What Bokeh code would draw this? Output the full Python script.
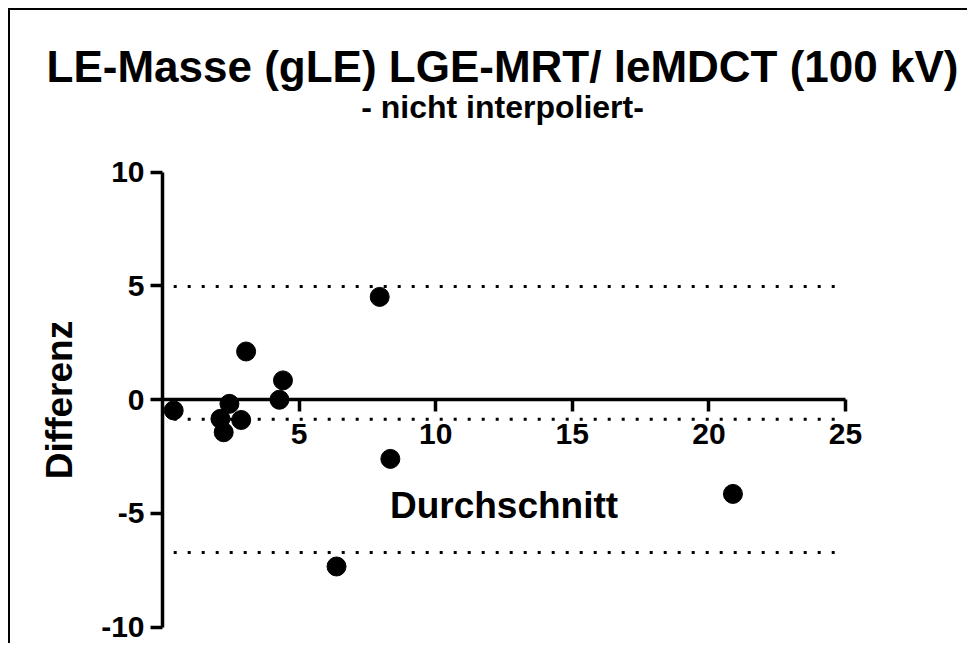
from bokeh.plotting import figure
from bokeh.models import LinearAxis, FixedTicker, Label, ColumnDataSource, Range1d
from bokeh.embed import file_html
from bokeh.resources import INLINE

# ---- data ----
mean_vals = [0.41, 2.45, 2.12, 2.24, 2.88, 3.06, 4.28, 4.41, 7.95, 8.34, 6.37, 20.88]
diff_vals = [-0.48, -0.19, -0.85, -1.44, -0.90, 2.11, -0.01, 0.84, 4.51, -2.61, -7.34, -4.15]
bias = -0.87
upper_loa = 4.97
lower_loa = -6.72
x_ticks = [5, 10, 15, 20, 25]
y_ticks = [-10, -5, 0, 5, 10]
y_tick_labels = ["-10", "-5", "0", "5", "10"]
title_text = "LE-Masse (gLE) LGE-MRT/ leMDCT (100 kV)"
subtitle_text = "- nicht interpoliert-"
x_label = "Durchschnitt"
y_label = "Differenz"

FONT = "Liberation Sans"

# pixel geometry -> ranges (canvas starts at page (10,10): 8px margin + 2px border)
W, H = 959, 635
px_per_x = 27.32
px_per_y = 22.75
x0_px, y0_px = 162 - 10, 399 - 10   # position of data origin inside canvas
x_start = -x0_px / px_per_x
x_end = (W - x0_px) / px_per_x
y_end = y0_px / px_per_y
y_start = -(H - y0_px) / px_per_y

p = figure(width=W, height=H, output_backend="svg", toolbar_location=None,
           x_axis_type=None, y_axis_type=None,
           x_range=Range1d(x_start, x_end), y_range=Range1d(y_start, y_end),
           min_border=0, min_border_left=0, min_border_right=0,
           min_border_top=0, min_border_bottom=0)
p.outline_line_color = None
p.background_fill_color = "white"
p.border_fill_color = "white"
p.styles = {"margin-left": "8px", "margin-top": "8px",
            "border-left": "2px solid black", "border-top": "2px solid black"}

# reference lines (bias and limits of agreement)
levels = [upper_loa, bias, lower_loa]
seg_src = ColumnDataSource(dict(x0=[min(mean_vals)] * 3, x1=[x_ticks[-1]] * 3, y=levels))
p.segment(x0="x0", x1="x1", y0="y", y1="y", source=seg_src,
          line_color="black", line_width=3, line_dash="3 11", line_cap="butt")

# axes
xaxis = LinearAxis(fixed_location=0, bounds=(0, x_ticks[-1]),
                   ticker=FixedTicker(ticks=x_ticks, minor_ticks=[]))
yaxis = LinearAxis(fixed_location=0, bounds=(y_ticks[0], y_ticks[-1]),
                   ticker=FixedTicker(ticks=y_ticks, minor_ticks=[]))
yaxis.major_label_overrides = {t: l for t, l in zip(y_ticks, y_tick_labels)}
for ax in (xaxis, yaxis):
    ax.axis_line_width = 3.5
    ax.axis_line_color = "black"
    ax.major_tick_line_width = 3.5
    ax.major_tick_line_color = "black"
    ax.major_tick_in = 0
    ax.major_tick_out = 12
    ax.minor_tick_line_color = None
    ax.major_label_text_font = FONT
    ax.major_label_text_font_style = "bold"
    ax.major_label_text_font_size = "30px"
    ax.major_label_text_color = "black"
    ax.axis_label_text_font = FONT
    ax.axis_label_text_font_style = "bold"
    ax.axis_label_text_font_size = "37px"
    ax.axis_label_text_color = "black"
xaxis.axis_label = x_label
yaxis.axis_label = y_label
xaxis.major_label_standoff = 12
xaxis.axis_label_standoff = 38
yaxis.major_label_standoff = 6
yaxis.axis_label_standoff = 18
p.add_layout(xaxis, "below")
p.add_layout(yaxis, "left")

# points
p.scatter(x=mean_vals, y=diff_vals, size=19, color="black", marker="circle")

# titles
tx = (502 - 162) / px_per_x
p.add_layout(Label(x=tx, y=(399 - 66) / px_per_y, text=title_text, text_align="center",
                   text_baseline="alphabetic", text_font=FONT, text_font_style="bold",
                   text_font_size="44px", text_color="black"))
p.add_layout(Label(x=tx, y=(399 - 106) / px_per_y, text=subtitle_text, text_align="center",
                   text_baseline="alphabetic", text_font=FONT, text_font_style="bold",
                   text_font_size="32px", text_color="black"))

open("out.html", "w").write(file_html(p, INLINE))
